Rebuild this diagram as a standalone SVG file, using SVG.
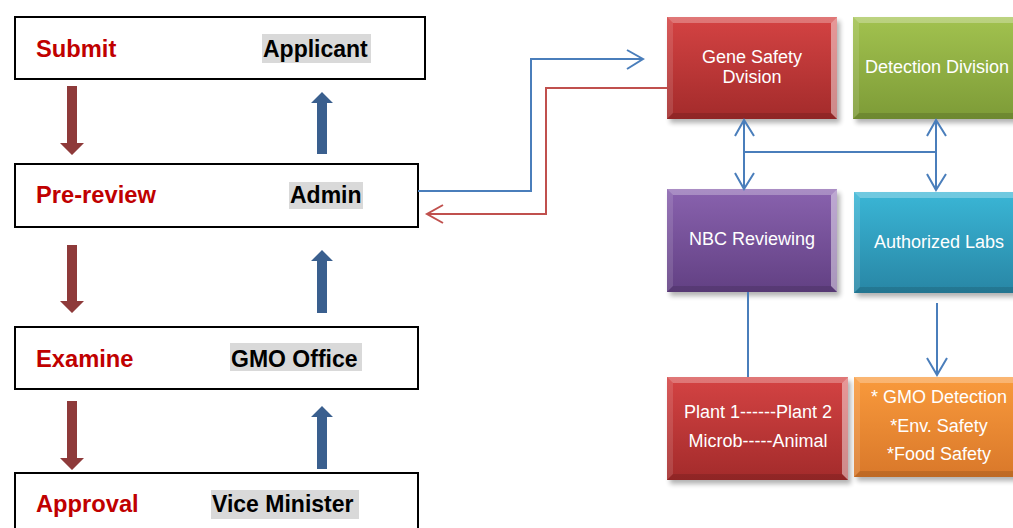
<svg xmlns="http://www.w3.org/2000/svg" width="1013" height="528" viewBox="0 0 1013 528">
<style>
.box{fill:#fff;stroke:#000;stroke-width:2}
.step{font-family:"Liberation Sans",Arial,sans-serif;font-weight:bold;font-size:23.7px;fill:#C00000}
.role{font-family:"Liberation Sans",Arial,sans-serif;font-weight:bold;font-size:23px;fill:#000}
.hl{fill:#D9D9D9}
.nt{font-family:"Liberation Sans",Arial,sans-serif;font-size:18px;fill:#fff;text-anchor:middle}
.conn{fill:none;stroke-width:2}
.blue{stroke:#4A7EBB}
.red{stroke:#C0504D}
.downa{fill:#8E3A3A}
.upa{fill:#3A5F8E}
.bt{fill:#fff;fill-opacity:.28}
.bl{fill:#fff;fill-opacity:.12}
.br{fill:#fff;fill-opacity:.45}
.bb{fill:#000;fill-opacity:.12}
</style>
<defs>
<linearGradient id="gRed" x1="0" y1="0" x2="0" y2="1"><stop offset="0" stop-color="#D44343"/><stop offset="1" stop-color="#A32B2B"/></linearGradient>
<linearGradient id="gGreen" x1="0" y1="0" x2="0" y2="1"><stop offset="0" stop-color="#A2C24F"/><stop offset="1" stop-color="#7D9B37"/></linearGradient>
<linearGradient id="gPurple" x1="0" y1="0" x2="0" y2="1"><stop offset="0" stop-color="#8962AE"/><stop offset="1" stop-color="#624083"/></linearGradient>
<linearGradient id="gCyan" x1="0" y1="0" x2="0" y2="1"><stop offset="0" stop-color="#3AB6D6"/><stop offset="1" stop-color="#2886A5"/></linearGradient>
<linearGradient id="gOrange" x1="0" y1="0" x2="0" y2="1"><stop offset="0" stop-color="#F99A3C"/><stop offset="1" stop-color="#D9782A"/></linearGradient>
<filter id="sh" x="-10%" y="-10%" width="130%" height="130%"><feGaussianBlur stdDeviation="2.5"/></filter>
</defs>

<!-- left flow -->
<g id="submit">
<rect class="box" x="15" y="17" width="410" height="62"/>
<text class="step" x="36" y="57">Submit</text>
<rect class="hl" x="262" y="34" width="109" height="29"/>
<text class="role" x="263" y="57">Applicant</text>
</g>
<g id="prereview">
<rect class="box" x="15" y="164" width="403" height="63"/>
<text class="step" x="36" y="203">Pre-review</text>
<rect class="hl" x="289" y="182" width="74" height="27"/>
<text class="role" x="290" y="203">Admin</text>
</g>
<g id="examine">
<rect class="box" x="15" y="327" width="403" height="62"/>
<text class="step" x="36" y="367">Examine</text>
<rect class="hl" x="230" y="343" width="132" height="28"/>
<text class="role" x="231" y="367">GMO Office</text>
</g>
<g id="approval">
<rect class="box" x="15" y="473" width="403" height="70"/>
<text class="step" x="36" y="512">Approval</text>
<rect class="hl" x="211" y="490" width="148" height="29"/>
<text class="role" x="212" y="512">Vice Minister</text>
</g>

<!-- right nodes -->
<g id="gene">
<rect x="670" y="21" width="170" height="102" fill="#000" opacity=".3" filter="url(#sh)"/>
<rect x="667" y="17" width="170" height="102" fill="url(#gRed)"/>
<polygon class="bt" points="667,17 837,17 831,23 673,23"/>
<polygon class="bl" points="667,17 673,23 673,113 667,119"/>
<polygon class="br" points="837,17 837,119 831,113 831,23"/>
<polygon class="bb" points="667,119 837,119 831,113 673,113"/>
<text class="nt" x="752" y="63">Gene Safety</text>
<text class="nt" x="752" y="83">Dvision</text>
</g>
<g id="detection">
<rect x="856" y="21" width="170" height="102" fill="#000" opacity=".3" filter="url(#sh)"/>
<rect x="853" y="17" width="170" height="102" fill="url(#gGreen)"/>
<polygon class="bt" points="853,17 1023,17 1017,23 859,23"/>
<polygon class="bl" points="853,17 859,23 859,113 853,119"/>
<polygon class="bb" points="853,119 1023,119 1017,113 859,113"/>
<text class="nt" x="937" y="73">Detection Division</text>
</g>
<g id="nbc">
<rect x="670" y="193" width="170" height="103" fill="#000" opacity=".3" filter="url(#sh)"/>
<rect x="667" y="189" width="170" height="103" fill="url(#gPurple)"/>
<polygon class="bt" points="667,189 837,189 831,195 673,195"/>
<polygon class="bl" points="667,189 673,195 673,286 667,292"/>
<polygon class="br" points="837,189 837,292 831,286 831,195"/>
<polygon class="bb" points="667,292 837,292 831,286 673,286"/>
<text class="nt" x="752" y="245">NBC Reviewing</text>
</g>
<g id="labs">
<rect x="857" y="196" width="170" height="101" fill="#000" opacity=".3" filter="url(#sh)"/>
<rect x="854" y="192" width="170" height="101" fill="url(#gCyan)"/>
<polygon class="bt" points="854,192 1024,192 1018,198 860,198"/>
<polygon class="bl" points="854,192 860,198 860,287 854,293"/>
<polygon class="bb" points="854,293 1024,293 1018,287 860,287"/>
<text class="nt" x="939" y="248">Authorized Labs</text>
</g>
<g id="plant">
<rect x="670" y="381" width="181" height="103" fill="#000" opacity=".3" filter="url(#sh)"/>
<rect x="667" y="377" width="181" height="103" fill="url(#gRed)"/>
<polygon class="bt" points="667,377 848,377 842,383 673,383"/>
<polygon class="bl" points="667,377 673,383 673,474 667,480"/>
<polygon class="br" points="848,377 848,480 842,474 842,383"/>
<polygon class="bb" points="667,480 848,480 842,474 673,474"/>
<text class="nt" x="758" y="418">Plant 1------Plant 2</text>
<text class="nt" x="758" y="447">Microb-----Animal</text>
</g>
<g id="tests">
<rect x="857" y="381" width="170" height="100" fill="#000" opacity=".3" filter="url(#sh)"/>
<rect x="854" y="377" width="170" height="100" fill="url(#gOrange)"/>
<polygon class="bt" points="854,377 1024,377 1018,383 860,383"/>
<polygon class="bl" points="854,377 860,383 860,471 854,477"/>
<polygon class="bb" points="854,477 1024,477 1018,471 860,471"/>
<text class="nt" x="939" y="403">* GMO Detection</text>
<text class="nt" x="939" y="432">*Env. Safety</text>
<text class="nt" x="939" y="460">*Food Safety</text>
</g>

<!-- connectors -->
<g id="connectors">
<polygon class="downa" points="67,86 77,86 77,143 84,143 72,155 60,143 67,143"/>
<polygon class="downa" points="67,245 77,245 77,301 84,301 72,313 60,301 67,301"/>
<polygon class="downa" points="67,401 77,401 77,458 84,458 72,470 60,458 67,458"/>
<polygon class="upa" points="322,92 333,103 327,103 327,154 317,154 317,103 311,103"/>
<polygon class="upa" points="322,250 333,261 327,261 327,313 317,313 317,261 311,261"/>
<polygon class="upa" points="322,406 333,417 327,417 327,469 317,469 317,417 311,417"/>

<polyline class="conn blue" points="418,191 531,191 531,59 642,59"/>
<polyline class="conn blue" points="627,50 643,59 627,69"/>
<polyline class="conn red" points="667,88 546,88 546,214 427,214"/>
<polyline class="conn red" points="443,205 427,214 443,223"/>

<line class="conn blue" x1="744" y1="120" x2="744" y2="189"/>
<polyline class="conn blue" points="735,136 744,120 754,136"/>
<polyline class="conn blue" points="735,173 744,189 754,173"/>
<line class="conn blue" x1="936" y1="120" x2="936" y2="190"/>
<polyline class="conn blue" points="927,136 936,120 946,136"/>
<polyline class="conn blue" points="927,174 936,190 946,174"/>
<line class="conn blue" x1="744" y1="152" x2="936" y2="152"/>

<line class="conn blue" x1="748" y1="292" x2="748" y2="377"/>
<line class="conn blue" x1="937" y1="303" x2="937" y2="375"/>
<polyline class="conn blue" points="927,358 937,375 947,358"/>
</g>
</svg>
